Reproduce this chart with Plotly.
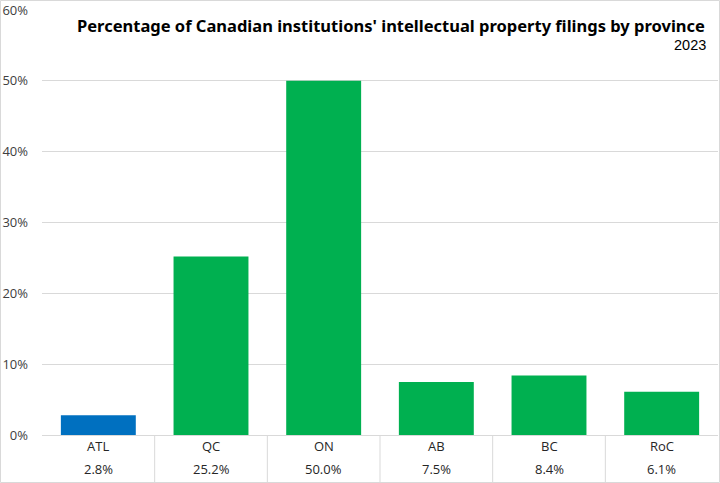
import plotly.graph_objects as go

categories = ["ATL", "QC", "ON", "AB", "BC", "RoC"]
values = [2.8, 25.2, 50.0, 7.5, 8.4, 6.1]
colors = ["#0070C0", "#00B050", "#00B050", "#00B050", "#00B050", "#00B050"]
y_ticks = [0, 10, 20, 30, 40, 50, 60]
y_ticktext = [f"{v}%" for v in y_ticks]
title = "Percentage of Canadian institutions' intellectual property filings by province"
subtitle = "2023"

W, H = 720, 483
L, R, T, B = 42, 2, 10, 48
pw, ph = W - L - R, H - T - B

def px_x(x):
    return (x - L) / pw

def px_y(y):
    return (H - B - y) / ph

fig = go.Figure()
fig.add_trace(go.Bar(
    x=categories, y=values, marker=dict(color=colors, line=dict(width=0)),
    hoverinfo="skip",
))

font_fam = "Open Sans, Noto Sans, sans-serif"
annotations = []
for c, v in zip(categories, values):
    annotations.append(dict(x=c, xref="x", y=px_y(446), yref="paper", text=c,
                            showarrow=False, font=dict(size=13, color="#262626", family=font_fam),
                            xanchor="center", yanchor="middle"))
    annotations.append(dict(x=c, xref="x", y=px_y(469), yref="paper", text=f"{v:.1f}%",
                            showarrow=False, font=dict(size=13, color="#262626", family=font_fam),
                            xanchor="center", yanchor="middle"))
annotations.append(dict(x=px_x(707), xref="paper", y=px_y(25.5), yref="paper", text=f"<b>{title}</b>",
                        showarrow=False, xanchor="right", yanchor="middle",
                        font=dict(size=16.5, color="#000000", family="Noto Sans, sans-serif")))
annotations.append(dict(x=px_x(708), xref="paper", y=px_y(45.5), yref="paper", text=subtitle,
                        showarrow=False, xanchor="right", yanchor="middle",
                        font=dict(size=14.5, color="#000000", family="Liberation Sans, Arial, sans-serif")))

grey = "#D9D9D9"
shapes = []
for i in range(1, len(categories)):
    shapes.append(dict(type="line", xref="x", yref="paper", x0=i - 0.5, x1=i - 0.5,
                       y0=0, y1=px_y(482), line=dict(color=grey, width=1)))
shapes.append(dict(type="rect", xref="paper", yref="paper",
                   x0=px_x(0.5), x1=px_x(719.5), y0=px_y(482.5), y1=px_y(0.5),
                   line=dict(color=grey, width=1)))

fig.update_layout(
    width=W, height=H,
    margin=dict(l=L, r=R, t=T, b=B),
    paper_bgcolor="white", plot_bgcolor="white",
    showlegend=False,
    bargap=0.335,
    annotations=annotations,
    shapes=shapes,
    xaxis=dict(showticklabels=False, showline=True, linecolor=grey, linewidth=1,
               ticks="", showgrid=False, zeroline=False, fixedrange=True),
    yaxis=dict(range=[0, 60], tickvals=y_ticks, ticktext=y_ticktext,
               showgrid=True, gridcolor=grey, gridwidth=1, zeroline=False,
               showline=False, ticks="", ticklabelstandoff=13,
               tickfont=dict(size=13, color="#404040", family=font_fam), fixedrange=True),
)

fig.write_html("out.html", config={"displayModeBar": False},
               post_script="document.body.style.margin='0';document.body.style.overflow='hidden';")
